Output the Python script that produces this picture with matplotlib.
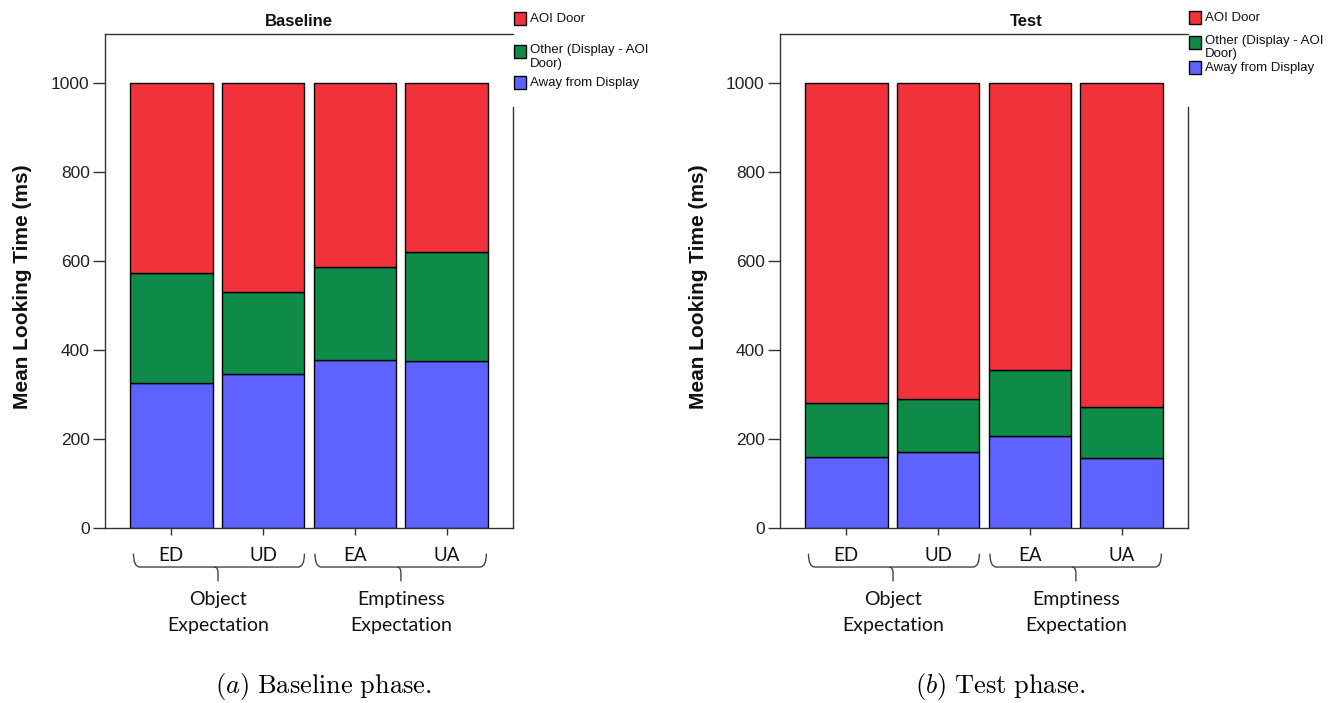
import matplotlib
matplotlib.use("Agg")
import matplotlib.pyplot as plt
from matplotlib.path import Path
from matplotlib.patches import PathPatch, Rectangle
from matplotlib.transforms import blended_transform_factory
import numpy as np

plt.rcParams['mathtext.fontset'] = 'cm'

# ---- data ----
conditions = ["ED", "UD", "EA", "UA"]
groups = ["Object\nExpectation", "Emptiness\nExpectation"]
series_names = ["AOI Door", "Other (Display - AOI\nDoor)", "Away from Display"]

baseline_away = [325, 347, 377, 375]
baseline_other = [248, 183, 209, 245]
baseline_aoi = [427, 470, 414, 380]

test_away = [160, 171, 207, 158]
test_other = [121, 120, 149, 114]
test_aoi = [719, 709, 644, 728]

panel_titles = ["Baseline", "Test"]
captions = [r"$\mathit{(a)}\ \mathrm{Baseline\ phase.}$", r"$\mathit{(b)}\ \mathrm{Test\ phase.}$"]
y_ticks = [0, 200, 400, 600, 800, 1000]

RED = "#F1323B"
GREEN = "#0E8B48"
BLUE = "#5E62FF"
colors = [RED, GREEN, BLUE]

W, H = 1340, 703
fig = plt.figure(figsize=(W / 100, H / 100), dpi=100)


def fx(px):
    return px / W


def fy(py):
    return 1 - py / H


def brace(ax, x0, x1, xm, y_end=-0.052, y_line=-0.079, y_tip=-0.108, r=0.07):
    tr = blended_transform_factory(ax.transData, ax.transAxes)
    verts = [(x0, y_end), (x0, y_line), (x0 + r, y_line), (x1 - r, y_line),
             (x1, y_line), (x1, y_end)]
    codes = [Path.MOVETO, Path.CURVE3, Path.CURVE3, Path.LINETO, Path.CURVE3, Path.CURVE3]
    ax.add_patch(PathPatch(Path(verts, codes), fill=False, edgecolor="#444444",
                           lw=1.0, transform=tr, clip_on=False))
    v2 = [(xm - r * 0.6, y_line), (xm, y_line), (xm, y_line - 0.012), (xm, y_tip)]
    c2 = [Path.MOVETO, Path.CURVE3, Path.CURVE3, Path.LINETO]
    ax.add_patch(PathPatch(Path(v2, c2), fill=False, edgecolor="#444444",
                           lw=1.0, transform=tr, clip_on=False))


panels = [
    (105, baseline_away, baseline_other, baseline_aoi),
    (780, test_away, test_other, test_aoi),
]

x = np.arange(len(conditions))
for i, (left_px, away, other, aoi) in enumerate(panels):
    ax = fig.add_axes([fx(left_px), fy(528), 408 / W, 494 / H])
    away = np.array(away)
    other = np.array(other)
    aoi = np.array(aoi)
    ax.bar(x, away, width=0.9, color=BLUE, edgecolor="black", lw=1.0, zorder=2)
    ax.bar(x, other, bottom=away, width=0.9, color=GREEN, edgecolor="black", lw=1.0, zorder=2)
    ax.bar(x, aoi, bottom=away + other, width=0.9, color=RED, edgecolor="black", lw=1.0, zorder=2)
    ax.set_xlim(-0.72, 3.72)
    ax.set_ylim(0, 1111)
    ax.set_yticks(y_ticks)
    ax.set_yticklabels([str(t) for t in y_ticks], fontfamily="Liberation Sans",
                       fontsize=12.5, color="#222222")
    ax.tick_params(axis="y", direction="out", length=9, width=1.0, pad=2, color="#333333")
    ax.set_xticks(x)
    ax.set_xticklabels(conditions, fontfamily="Lato", fontsize=13.5, color="#111111")
    ax.tick_params(axis="x", direction="out", length=5, width=1.0, pad=9, color="#333333")
    for s in ax.spines.values():
        s.set_linewidth(1.0)
        s.set_color("#333333")
    ax.spines["right"].set_bounds(0, 947)

    brace(ax, -0.41, 1.45, 0.51)
    brace(ax, 1.565, 3.43, 2.5)
    tr = blended_transform_factory(ax.transData, ax.transAxes)
    for gx, g in zip([0.51, 2.5], groups):
        ax.text(gx, -0.128, g, transform=tr, ha="center", va="top", fontfamily="Lato",
                fontsize=14, linespacing=1.6, color="#111111")

    # y label and title
    fig.text(fx(left_px - 82), fy(287), "Mean Looking Time (ms)", rotation=90,
             ha="center", va="center", fontfamily="Liberation Sans", fontweight="bold",
             fontsize=15, color="#111111")
    title_x = [299, 1026][i]
    fig.text(fx(title_x), fy(22), panel_titles[i], ha="center", va="center",
             fontfamily="Liberation Sans", fontweight="bold", fontsize=12, color="#111111")

    # caption
    cap_x = [323, 1000][i]
    fig.text(fx(cap_x), fy(686), captions[i], ha="center", va="center", fontsize=19)

    # legend (manual)
    lx = left_px + 408
    if i == 0:
        ys = [19, 52, 83]
        line_gap = 13.5
    else:
        ys = [18, 43, 68]
        line_gap = 12.5
    for c, name, yc in zip(colors, series_names, ys):
        fig.patches.append(Rectangle((fx(lx + 0.5), fy(yc + 6)), 12.5 / W, 12.5 / H,
                                     transform=fig.transFigure, facecolor=c,
                                     edgecolor="black", lw=1.0))
        lines = name.split("\n")
        if len(lines) == 1:
            fig.text(fx(lx + 17), fy(yc), name, ha="left", va="center",
                     fontfamily="Liberation Sans", fontsize=9.5, color="#111111")
        else:
            for k, ln in enumerate(lines):
                fig.text(fx(lx + 17), fy(yc - 2 + k * line_gap), ln, ha="left", va="center",
                         fontfamily="Liberation Sans", fontsize=9.5, color="#111111")

fig.savefig("out.png", dpi=100)
